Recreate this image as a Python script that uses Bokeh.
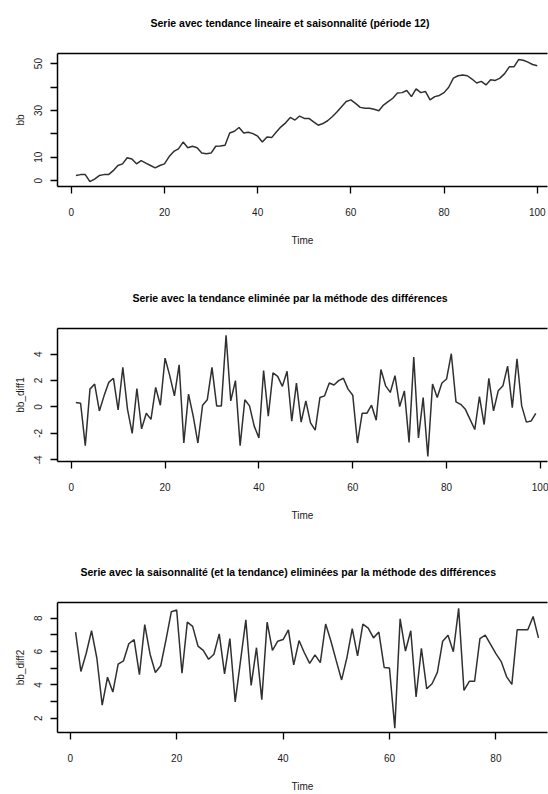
from bokeh.plotting import figure
from bokeh.layouts import column
from bokeh.models import FixedTicker, LinearAxis, Range1d, Title
from bokeh.embed import file_html
from bokeh.resources import INLINE

# ---------------- data ----------------
time_bb = list(range(1, 101))
bb = [2.2, 2.6, 2.6, -0.4, 0.7, 2.2, 2.6, 2.6, 4.3, 6.5,
      7.2, 9.8, 9.3, 7.2, 8.6, 7.5, 6.5, 5.5, 6.5, 7.2,
      10.3, 12.5, 13.6, 16.5, 14.1, 14.7, 14.1, 11.8, 11.5, 11.8,
      14.7, 14.8, 15.1, 20.4, 21.1, 22.7, 20.4, 20.7, 20.1, 19.0,
      16.5, 18.7, 18.4, 20.8, 23.0, 24.7, 27.0, 25.9, 27.6, 26.6,
      26.6, 25.1, 23.7, 24.4, 25.6, 27.3, 29.3, 31.6, 33.8, 34.5,
      33.0, 31.3, 30.9, 30.9, 30.5, 29.9, 32.3, 33.8, 35.2, 37.4,
      37.6, 38.5, 35.9, 39.2, 37.6, 38.1, 34.5, 35.9, 36.4, 37.6,
      39.9, 43.8, 44.8, 45.1, 44.8, 43.4, 41.7, 42.4, 40.9, 43.1,
      42.8, 43.8, 45.7, 48.6, 48.6, 51.7, 51.4, 50.6, 49.6, 49.1]

time_diff1 = list(range(1, 100))
bb_diff1 = [0.33, 0.28, -2.93, 1.35, 1.73, -0.3, 0.84, 1.86, 2.17, -0.23,
            3.0, -0.18, -2.0, 1.4, -1.66, -0.48, -0.94, 1.48, 0.13, 3.7,
            2.37, 0.84, 3.19, -2.73, 0.97, -0.69, -2.73, 0.13, 0.54, 3.0,
            0.08, 0.08, 5.43, 0.46, 1.99, -2.93, 0.54, 0.08, -1.45, -2.35,
            2.76, -0.69, 2.58, 2.32, 1.56, 2.7, -1.07, 1.81, -1.15, 0.46,
            -1.2, -1.76, 0.71, 0.84, 1.81, 1.66, 1.99, 2.17, 1.35, 0.89,
            -2.73, -0.48, -0.48, 0.13, -1.0, 2.83, 1.6, 1.1, 2.37, 0.03,
            1.22, -2.68, 3.78, -2.35, 0.71, -3.75, 1.73, 0.71, 1.81, 2.12,
            4.03, 0.38, 0.2, -0.18, -0.94, -1.71, 0.79, -1.33, 2.17, -0.3,
            1.22, 1.6, 3.09, -0.05, 3.65, 0.08, -1.15, -1.07, -0.48]

time_diff2 = list(range(1, 89))
bb_diff2 = [7.17, 4.81, 5.9, 7.25, 5.6, 2.79, 4.46, 3.57, 5.25, 5.44,
            6.47, 6.72, 4.62, 7.61, 5.84, 4.75, 5.15, 6.72, 8.39, 8.49,
            4.7, 7.76, 7.51, 6.33, 6.07, 5.54, 5.84, 7.06, 4.66, 6.78,
            2.98, 5.44, 7.9, 3.97, 6.23, 3.12, 7.76, 6.07, 6.62, 6.72,
            7.3, 5.2, 6.66, 5.93, 5.29, 5.8, 5.34, 7.65, 6.62, 5.44,
            4.3, 5.64, 7.37, 5.74, 7.65, 7.41, 6.82, 7.17, 5.05, 5.01,
            1.41, 7.96, 6.03, 7.25, 3.28, 6.19, 3.77, 4.07, 4.75, 6.62,
            6.98, 5.99, 8.59, 3.67, 4.22, 4.22, 6.78, 6.98, 6.43, 5.88,
            5.4, 4.5, 4.03, 7.31, 7.31, 7.31, 8.1, 6.82]

titles = ["Serie avec tendance lineaire et saisonnalité (période 12)",
          "Serie avec la tendance eliminée par la méthode des différences",
          "Serie avec la saisonnalité (et la tendance) eliminées par la méthode des différences"]
ylabels = ["bb", "bb_diff1", "bb_diff2"]
xlabel = "Time"

xticks1 = [0, 20, 40, 60, 80, 100]
yticks1 = [0, 10, 20, 30, 40, 50]
ylab1 = {0: "0", 10: "10", 20: "", 30: "30", 40: "", 50: "50"}
xticks2 = [0, 20, 40, 60, 80, 100]
yticks2 = [-4, -2, 0, 2, 4]
ylab2 = {-4: "-4", -2: "-2", 0: "0", 2: "2", 4: "4"}
xticks3 = [0, 20, 40, 60, 80]
yticks3 = [2, 3, 4, 5, 6, 7, 8]
ylab3 = {2: "2", 3: "", 4: "4", 5: "", 6: "6", 7: "", 8: "8"}

FONT = "Liberation Sans"
INK = "#1a1a1a"
FRAME_H = 133


def style_axis(ax):
    ax.axis_line_color = "black"
    ax.axis_line_width = 1.5
    ax.major_tick_line_color = "black"
    ax.major_tick_line_width = 1.3
    ax.major_tick_in = 0
    ax.major_tick_out = 7
    ax.minor_tick_line_color = None
    ax.major_label_text_font = FONT
    ax.major_label_text_font_size = "10px"
    ax.major_label_text_color = INK
    ax.axis_label_text_font = FONT
    ax.axis_label_text_font_size = "10px"
    ax.axis_label_text_font_style = "normal"
    ax.axis_label_text_color = INK


def panel(x, y, title, title_left, ylab, xr, yr, xt, yt, ylo, top, bottom):
    p = figure(width=548, height=top + FRAME_H + bottom,
               x_range=Range1d(*xr), y_range=Range1d(*yr),
               output_backend="svg", toolbar_location=None,
               min_border_left=57, min_border_right=1,
               min_border_top=top, min_border_bottom=bottom)
    p.line(x, y, line_color="#303030", line_width=1.5)
    p.grid.visible = False
    p.outline_line_color = None
    p.background_fill_color = "white"
    p.border_fill_color = "white"

    xa = p.xaxis[0]
    xa.ticker = FixedTicker(ticks=xt)
    xa.axis_label = xlabel
    xa.major_label_standoff = 14
    xa.axis_label_standoff = 16
    style_axis(xa)

    ya = p.yaxis[0]
    ya.ticker = FixedTicker(ticks=yt)
    ya.major_label_overrides = ylo
    ya.major_label_orientation = "vertical"
    ya.axis_label = ylab
    ya.major_label_standoff = 8
    ya.axis_label_standoff = 6
    style_axis(ya)

    # top edge of the box
    top_ax = LinearAxis(ticker=FixedTicker(ticks=[]), major_tick_out=0, major_tick_in=0,
                        major_label_text_font_size="0px", axis_line_width=1.5,
                        axis_line_color="black", minor_tick_line_color=None,
                        major_label_standoff=0)
    p.add_layout(top_ax, "above")
    # empty spacer between box and title
    p.add_layout(Title(text=" ", text_font_size="10px", standoff=12), "above")
    # the real title
    p.add_layout(Title(text=title, align="left", offset=title_left, standoff=0,
                       text_font=FONT, text_font_size="10.5px", text_font_style="bold",
                       text_color="black"), "above")
    return p


p1 = panel(time_bb, bb, titles[0], 93, ylabels[0], (-2.96, 102.2), (-2.47, 54.3),
           xticks1, yticks1, ylab1, 53, 88)
p2 = panel(time_diff1, bb_diff1, titles[1], 75, ylabels[1], (-2.92, 101.5), (-4.13, 5.94),
           xticks2, yticks2, ylab2, 54, 87)
p3 = panel(time_diff2, bb_diff2, titles[2], 23, ylabels[2], (-2.4, 89.7), (1.15, 8.94),
           xticks3, yticks3, ylab3, 54, 59)

layout = column(p1, p2, p3, spacing=0)
open("out.html", "w").write(file_html(layout, INLINE))
